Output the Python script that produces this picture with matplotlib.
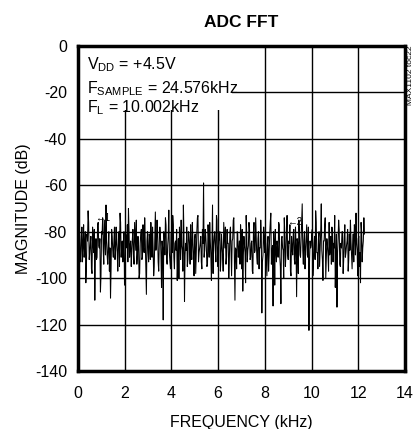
import numpy as np
import matplotlib.pyplot as plt
from matplotlib.patches import Rectangle

plt.rcParams['font.family'] = ['Liberation Sans', 'DejaVu Sans']
plt.rcParams['axes.unicode_minus'] = False

# FFT settings (bin spacing from sample rate)
fs_khz = 24.576
n_fft = 1024

# magnitude (dB) of the even bins
mag_even_db = [
    -84, -79, -90, -82, -93, -77, -88, -102, -81, -71, -92, -85, -96, -78, -89, -109.5,
    -83, -91, -76, -87, -106, -80, -74, -94, -82, -68.5, -90, -86, -97, -108.6, -79, -88,
    -85, -92, -78, -89, -81, -95, -76, -87, -93, -80, -99, -83, -77, -70, -91, -84,
    -88, -79, -94, -82, -75, -90, -86, -98, -81, -92, -77, -89, -84, -107, -80, -93,
    -83, -76, -91, -87, -95, -71.5, -85, -80, -97, -78, -90, -84, -118, -82, -74, -92,
    -86, -70.7, -93, -81, -89, -77, -96, -84, -79, -91, -100, -83, -75, -88, -68.5, -110,
    -85, -78, -92, -81, -94, -87, -76, -90, -83, -98, -80, -73, -89, -85, -93, -79,
    -59, -88, -82, -95, -77, -91, -84, -101, -68.5, -86, -80, -93, -75, -89, -83, -97,
    -81, -90, -76, -87, -94, -79, -85, -92, -78, -99, -83, -74, -109.5, -88, -80, -91,
    -84, -77, -96, -105.6, -82, -89, -73, -93, -86, -79, -91, -84, -98, -76, -88, -82,
    -94, -80, -87, -75, -115, -90, -83, -78, -92, -85, -97, -81, -72, -89, -112, -84,
    -79, -93, -86, -76, -91, -111, -82, -88, -74, -95, -80, -90, -84, -77, -99, -87,
    -81, -92, -78, -108, -85, -75, -90, -83, -68, -94, -80, -88, -77, -91, -122.5, -84,
    -86, -79, -93, -82, -71, -89, -96, -80, -87, -68, -92, -84, -78, -100, -83, -90,
    -76, -88, -94, -81, -85, -73, -91, -112.5, -83, -79, -95, -87, -80, -92, -77, -89,
    -84, -97, -81, -75, -90, -86, -93, -79, -72, -88, -83, -95, -102, -80, -87, -74,
]

# magnitude (dB) of the odd bins
mag_odd_db = [
    -87, -81, -93, -78, -86, -91, -80, -95, -84, -76, -89, -82, -98, -85, -79, -90,
    -92, -77, -86, -83, -99, -81, -88, -75, -90, -84, -94, -80, -87, -96, -82, -91,
    -78, -88, -85, -97, -80, -72, -91, -84, -89, -103, -81, -87, -93, -79, -86, -95,
    -83, -90, -76, -88, -94, -82, -100, -85, -79, -91, -87, -74, -96, -84, -89, -81,
    -92, -86, -78, -99, -83, -88, -75, -93, -85, -81, -104, -87, -80, -90, -77, -94,
    -82, -89, -96, -80, -73, -91, -85, -88, -101, -83, -78, -92, -86, -97, -81, -90,
    -88, -95, -80, -86, -77, -92, -84, -99, -81, -89, -74, -93, -87, -82, -96, -85,
    -91, -79, -87, -94, -83, -76, -90, -86, -98, -82, -88, -73, -95, -84, -80, -92,
    -86, -97, -82, -78, -91, -85, -100, -80, -89, -84, -75, -93, -87, -96, -81, -88,
    -94, -83, -79, -90, -86, -102, -81, -88, -76, -92, -85, -97, -80, -89, -74, -91,
    -83, -96, -87, -81, -93, -78, -89, -85, -99, -82, -90, -76, -94, -86, -80, -103,
    -88, -84, -91, -77, -95, -83, -87, -100, -81, -89, -73, -92, -85, -97, -82, -90,
    -79, -94, -86, -83, -98, -80, -91, -75, -88, -84, -96, -82, -90, -78, -93, -87,
    -81, -99, -85, -92, -76, -89, -83, -95, -80, -88, -101, -84, -74, -91, -86, -97,
    -90, -82, -78, -93, -87, -104, -81, -89, -75, -94, -85, -80, -98, -83, -91, -86,
    -79, -92, -88, -84, -96, -81, -77, -90, -85, -99, -82, -89, -76, -93, -84, -81,
]

mag_db = np.empty(len(mag_even_db) + len(mag_odd_db))
mag_db[0::2] = mag_even_db
mag_db[1::2] = mag_odd_db
freq_khz = np.arange(len(mag_db)) * fs_khz / n_fft

# harmonic markers
marker_labels = ['\u21901', '\u21902']
marker_freq = [1.07, 9.27]
marker_db = [-74, -76]

x_ticks = [0, 2, 4, 6, 8, 10, 12, 14]
y_ticks = [0, -20, -40, -60, -80, -100, -120, -140]

fig = plt.figure(figsize=(4.16, 4.29), dpi=100)
ax = fig.add_axes([0.1875, 0.1352, 0.786, 0.7576])

ax.plot(freq_khz, mag_db, color='black', lw=0.75, zorder=3)

for lab, f, m in zip(marker_labels, marker_freq, marker_db):
    ax.text(f, m, lab, fontsize=7, ha='center', va='center', zorder=4)

ax.set_xlim(0, 14)
ax.set_ylim(-140, 0)
ax.set_xticks(x_ticks)
ax.set_yticks(y_ticks)
ax.tick_params(length=0, labelsize=11.5)
ax.tick_params(axis='x', pad=11)
ax.tick_params(axis='y', pad=8)
ax.grid(True, color='black', lw=1.0, zorder=1)
ax.set_axisbelow(True)
for sp in ax.spines.values():
    sp.set_linewidth(2.5)
    sp.set_zorder(5)

# white box behind the conditions text
ax.add_patch(Rectangle((0, -27.5), 6.6, 27.5, facecolor='white',
                       edgecolor='none', zorder=2))
ax.text(0.4, -4, r'V$_{\mathregular{DD}}$ = +4.5V', fontsize=11.5, va='top', zorder=4)
ax.text(0.4, -14.5, r'F$_{\mathregular{SAMPLE}}$ = 24.576kHz', fontsize=11.5, va='top', zorder=4)
ax.text(0.4, -22.5, r'F$_{\mathregular{L}}$ = 10.002kHz', fontsize=11.5, va='top', zorder=4)

ax.set_xlabel('FREQUENCY (kHz)', fontsize=11.5, labelpad=10)
ax.set_ylabel('MAGNITUDE (dB)', fontsize=11.5, labelpad=3)
ax.set_title('ADC FFT', fontsize=12.5, fontweight='bold', pad=14)

fig.text(0.986, 0.893, 'MAX1102 toc22', rotation=90, fontsize=6,
         ha='center', va='top')

plt.savefig('out.png', dpi=100)
plt.close()
